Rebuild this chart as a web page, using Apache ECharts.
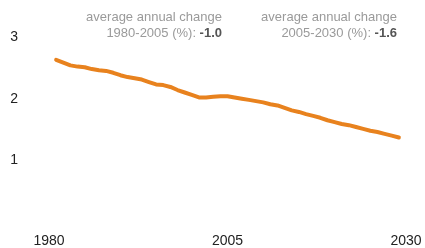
<!DOCTYPE html>
<html><head><meta charset="utf-8">
<script src="https://cdn.jsdelivr.net/npm/echarts@6/dist/echarts.min.js"></script>
<style>html,body{margin:0;padding:0;background:#fff}#c{width:425px;height:248px}</style>
</head><body><div id="c"></div>
<script>
const years = [1981,1982,1983,1984,1985,1986,1987,1988,1989,1990,1991,1992,1993,1994,1995,1996,1997,1998,1999,2000,2001,2002,2003,2004,2005,2006,2007,2008,2009,2010,2011,2012,2013,2014,2015,2016,2017,2018,2019,2020,2021,2022,2023,2024,2025,2026,2027,2028,2029];
const values = [2.63,2.585,2.54,2.52,2.51,2.48,2.46,2.45,2.42,2.38,2.35,2.33,2.31,2.27,2.23,2.22,2.19,2.14,2.10,2.06,2.02,2.02,2.03,2.04,2.04,2.02,2.0,1.98,1.96,1.94,1.91,1.89,1.85,1.81,1.785,1.75,1.72,1.69,1.65,1.62,1.59,1.57,1.54,1.51,1.48,1.46,1.43,1.40,1.37];
const xTicks = [1980, 2005, 2030];
const yTicks = [1, 2, 3];
const notes = [
  {line1: 'average annual change', line2: '1980-2005 (%): ', val: '-1.0'},
  {line1: 'average annual change', line2: '2005-2030 (%): ', val: '-1.6'}
];

const chart = echarts.init(document.getElementById('c'), null, {renderer: 'canvas'});
const font = 'Liberation Sans, Arial, sans-serif';
const noteX = [222, 397];
const graphics = [];
notes.forEach((n, i) => {
  graphics.push({type: 'text', x: noteX[i], y: 11, style: {
    text: n.line1, align: 'right', verticalAlign: 'top',
    fill: '#9a9a9a', font: '13px ' + font
  }});
  graphics.push({type: 'text', x: noteX[i], y: 27, style: {
    text: '{a|' + n.line2 + '}{b|' + n.val + '}', align: 'right', verticalAlign: 'top',
    fill: '#9a9a9a', font: '13px ' + font,
    rich: {a: {fill: '#9a9a9a', fontSize: 13, fontFamily: font},
           b: {fill: '#555', fontSize: 13, fontFamily: font, fontWeight: 'bold'}}
  }});
});
chart.setOption({
  animation: false,
  grid: {left: 49, right: 19, top: 37, bottom: 25},
  xAxis: {
    type: 'value', min: 1980, max: 2030, interval: 25,
    axisLine: {show: false}, axisTick: {show: false}, splitLine: {show: false},
    axisLabel: {color: '#222', fontSize: 14, fontFamily: font, margin: 12,
      formatter: v => xTicks.includes(v) ? String(v) : ''}
  },
  yAxis: {
    type: 'value', min: 0, max: 3, interval: 1,
    axisLine: {show: false}, axisTick: {show: false}, splitLine: {show: false},
    axisLabel: {color: '#222', fontSize: 14, fontFamily: font, margin: 31,
      formatter: v => yTicks.includes(v) ? String(v) : ''}
  },
  series: [{
    type: 'line', data: years.map((y, i) => [y, values[i]]),
    showSymbol: false, smooth: false,
    lineStyle: {color: '#E8821E', width: 4, cap: 'round', join: 'round'}
  }],
  graphic: graphics
});
</script></body></html>
